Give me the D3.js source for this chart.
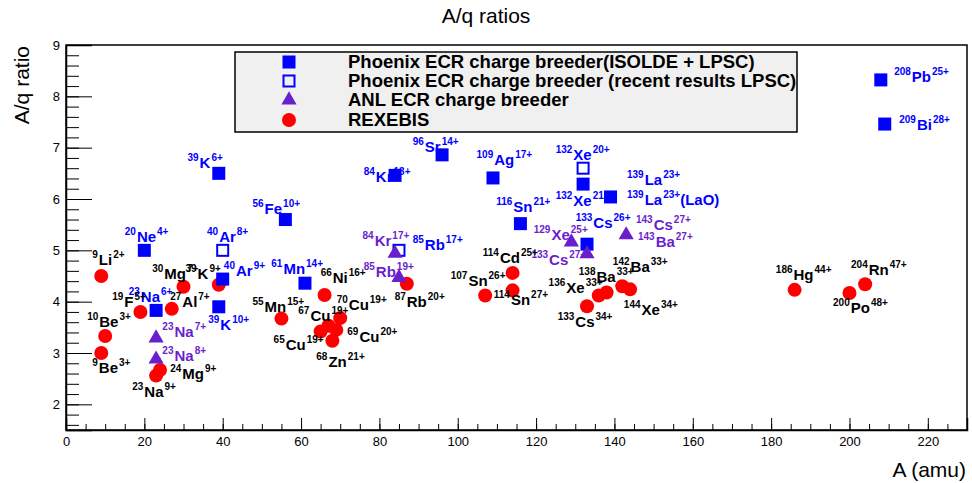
<!DOCTYPE html>
<html>
<head>
<meta charset="utf-8">
<script src="https://cdn.jsdelivr.net/npm/d3@7/dist/d3.min.js"></script>
<style>
  body { margin: 0; background: #fff; }
  svg { font-family: "Liberation Sans", Arial, sans-serif; }
</style>
</head>
<body>
<div id="chart"></div>
<script>
// Canvas
const width = 972;
const height = 483;
const margin = { top: 45, right: 5, bottom: 53, left: 66 };

// Phoenix ECR charge breeder (ISOLDE + LPSC), filled squares
const phoenixA     = [20, 39, 40, 23, 39, 56, 61, 84, 96, 109, 116, 132, 139, 133, 208, 209];
const phoenixRatio = [5.0, 6.5, 4.44, 3.83, 3.9, 5.6, 4.36, 6.46, 6.86, 6.41, 5.52, 6.29, 6.04, 5.12, 8.32, 7.46];

// Phoenix recent results LPSC, open squares
const phoenixNewA     = [40, 85, 132];
const phoenixNewRatio = [5.0, 5.0, 6.6];

// ANL ECR charge breeder, triangles
const anlA     = [23, 23, 84, 85, 129, 133, 143];
const anlRatio = [3.29, 2.88, 4.94, 4.47, 5.16, 4.93, 5.3];

// REXEBIS, circles
const rexA     = [9, 10, 9, 19, 23, 24, 27, 30, 39, 55, 66, 67, 70, 65, 69, 68, 87, 107, 114, 114, 136, 138, 142, 144, 133, 186, 200, 204];
const rexRatio = [4.5, 3.33, 3.0, 3.8, 2.56, 2.67, 3.86, 4.29, 4.33, 3.67, 4.13, 3.53, 3.68, 3.42, 3.45, 3.24, 4.35, 4.12, 4.56, 4.22, 4.12, 4.18, 4.3, 4.24, 3.91, 4.23, 4.17, 4.34];

// Annotations: [mass, element, charge, A position, ratio position, group]
const labels = [
  ["39", "K", "6+", 31.0, 6.60, "p"],
  ["20", "Ne", "4+", 15.0, 5.16, "p"],
  ["40", "Ar", "8+", 36.0, 5.16, "p"],
  ["40", "Ar", "9+", 40.3, 4.50, "p"],
  ["23", "Na", "6+", 16.0, 3.99, "p"],
  ["39", "K", "10+", 36.3, 3.44, "p"],
  ["56", "Fe", "10+", 47.6, 5.71, "p"],
  ["61", "Mn", "14+", 52.4, 4.53, "p"],
  ["84", "Kr", "13+", 76.0, 6.33, "p"],
  ["85", "Rb", "17+", 88.5, 5.00, "p"],
  ["96", "Sr", "14+", 88.5, 6.91, "p"],
  ["109", "Ag", "17+", 104.8, 6.66, "p"],
  ["116", "Sn", "21+", 109.8, 5.74, "p"],
  ["132", "Xe", "20+", 125.0, 6.76, "p"],
  ["132", "Xe", "21+", 125.0, 5.86, "p"],
  ["139", "La", "23+", 143.2, 6.27, "p"],
  ["139", "La", "23+(LaO)", 143.2, 5.88, "p"],
  ["133", "Cs", "26+", 130.1, 5.43, "p"],
  ["208", "Pb", "25+", 211.4, 8.28, "p"],
  ["209", "Bi", "28+", 212.7, 7.34, "p"],
  ["84", "Kr", "17+", 75.7, 5.08, "a"],
  ["85", "Rb", "19+", 76.0, 4.48, "a"],
  ["23", "Na", "7+", 24.6, 3.31, "a"],
  ["23", "Na", "8+", 24.6, 2.84, "a"],
  ["129", "Xe", "25+", 119.4, 5.20, "a"],
  ["133", "Cs", "27+", 118.8, 4.71, "a"],
  ["143", "Cs", "27+", 145.5, 5.39, "a"],
  ["143", "Ba", "27+", 146.0, 5.06, "a"],
  ["9", "Li", "2+", 6.7, 4.71, "r"],
  ["10", "Be", "3+", 5.4, 3.50, "r"],
  ["9", "Be", "3+", 6.7, 2.61, "r"],
  ["19", "F", "5+", 11.8, 3.89, "r"],
  ["23", "Na", "9+", 16.9, 2.14, "r"],
  ["24", "Mg", "9+", 26.6, 2.49, "r"],
  ["27", "Al", "7+", 26.6, 3.89, "r"],
  ["30", "Mg", "7+", 22.0, 4.44, "r"],
  ["39", "K", "9+", 30.5, 4.44, "r"],
  ["55", "Mn", "15+", 47.6, 3.80, "r"],
  ["66", "Ni", "16+", 65.0, 4.36, "r"],
  ["70", "Cu", "19+", 69.1, 3.83, "r"],
  ["67", "Cu", "19+", 59.3, 3.62, "r"],
  ["69", "Cu", "20+", 71.8, 3.21, "r"],
  ["65", "Cu", "19+", 53.0, 3.05, "r"],
  ["68", "Zn", "21+", 63.9, 2.72, "r"],
  ["87", "Rb", "20+", 83.9, 3.89, "r"],
  ["114", "Cd", "25+", 106.4, 4.75, "r"],
  ["107", "Sn", "26+", 98.2, 4.30, "r"],
  ["114", "Sn", "27+", 109.2, 3.93, "r"],
  ["136", "Xe", "33+", 123.2, 4.17, "r"],
  ["138", "Ba", "33+", 130.9, 4.38, "r"],
  ["142", "Ba", "33+", 139.6, 4.58, "r"],
  ["144", "Xe", "34+", 142.4, 3.74, "r"],
  ["133", "Cs", "34+", 125.5, 3.50, "r"],
  ["186", "Hg", "44+", 181.2, 4.42, "r"],
  ["200", "Po", "48+", 195.8, 3.78, "r"],
  ["204", "Rn", "47+", 200.4, 4.52, "r"]
];

// Legend entries
const legendNames = [
  "Phoenix ECR charge breeder(ISOLDE + LPSC)",
  "Phoenix ECR charge breeder (recent results LPSC)",
  "ANL ECR charge breeder",
  "REXEBIS"
];

const blue = "#0000ff";
const violet = "#6a1fcc";
const red = "#ff0000";
const groupColor = { p: blue, a: violet, r: "#000000" };

const svg = d3.select("#chart")
    .append("svg")
    .attr("width", width)
    .attr("height", height);

// Scales
const x = d3.scaleLinear()
    .domain([0, 230])
    .range([margin.left, width - margin.right]);

const y = d3.scaleLinear()
    .domain([1.5, 9])
    .range([height - margin.bottom, margin.top]);

// Frame
svg.append("rect")
    .attr("x", x(0))
    .attr("y", y(9))
    .attr("width", x(230) - x(0))
    .attr("height", y(1.5) - y(9))
    .attr("fill", "none")
    .attr("stroke", "#000")
    .attr("stroke-width", 1.5);

// X axis: major every 20, minor every 5, ticks pointing inward
svg.append("g")
    .attr("transform", `translate(0, ${y(1.5)})`)
    .call(d3.axisBottom(x).tickValues(d3.range(0, 231, 5)).tickSize(-6).tickFormat(""))
    .call(g => g.select(".domain").remove());

svg.append("g")
    .attr("transform", `translate(0, ${y(1.5)})`)
    .call(d3.axisBottom(x).tickValues(d3.range(0, 221, 20)).tickSize(-12).tickPadding(7))
    .call(g => g.select(".domain").attr("stroke-width", 1.5))
    .call(g => g.selectAll("text").attr("font-size", 13).attr("font-family", "Liberation Sans"));

// Y axis: major every 1, minor every 0.2
svg.append("g")
    .attr("transform", `translate(${x(0)}, 0)`)
    .call(d3.axisLeft(y).tickValues(d3.range(1.6, 9, 0.2)).tickSize(-13).tickFormat(""))
    .call(g => g.select(".domain").remove());

svg.append("g")
    .attr("transform", `translate(${x(0)}, 0)`)
    .call(d3.axisLeft(y).tickValues(d3.range(2, 10, 1)).tickSize(-26).tickPadding(6))
    .call(g => g.select(".domain").attr("stroke-width", 1.5))
    .call(g => g.selectAll("text").attr("font-size", 13).attr("font-family", "Liberation Sans"));

// Titles
svg.append("text")
    .attr("x", 486)
    .attr("y", 23)
    .attr("text-anchor", "middle")
    .attr("font-size", 21)
    .text("A/q ratios");

svg.append("text")
    .attr("transform", `translate(29, ${margin.top + 1}) rotate(-90)`)
    .attr("text-anchor", "end")
    .attr("font-size", 21)
    .text("A/q ratio");

svg.append("text")
    .attr("x", 966)
    .attr("y", 477)
    .attr("text-anchor", "end")
    .attr("font-size", 21)
    .text("A (amu)");

// Markers
const sq = 13;
const tri = d3.symbol().type(d3.symbolTriangle).size(100);

svg.append("g").selectAll("circle")
    .data(rexA.map((a, i) => [a, rexRatio[i]]))
    .join("circle")
    .attr("cx", d => x(d[0]))
    .attr("cy", d => y(d[1]))
    .attr("r", 7)
    .attr("fill", red);

svg.append("g").selectAll("rect")
    .data(phoenixA.map((a, i) => [a, phoenixRatio[i]]))
    .join("rect")
    .attr("x", d => x(d[0]) - sq / 2)
    .attr("y", d => y(d[1]) - sq / 2)
    .attr("width", sq)
    .attr("height", sq)
    .attr("fill", blue);

svg.append("g").selectAll("rect")
    .data(phoenixNewA.map((a, i) => [a, phoenixNewRatio[i]]))
    .join("rect")
    .attr("x", d => x(d[0]) - sq / 2 + 1)
    .attr("y", d => y(d[1]) - sq / 2 + 1)
    .attr("width", sq - 2)
    .attr("height", sq - 2)
    .attr("fill", "none")
    .attr("stroke", blue)
    .attr("stroke-width", 2);

svg.append("g").selectAll("path")
    .data(anlA.map((a, i) => [a, anlRatio[i]]))
    .join("path")
    .attr("transform", d => `translate(${x(d[0])}, ${y(d[1])})`)
    .attr("d", tri)
    .attr("fill", violet);

// Isotope labels
const lab = svg.append("g")
    .attr("font-weight", "bold")
    .selectAll("text")
    .data(labels)
    .join("text")
    .attr("x", d => x(d[3]))
    .attr("y", d => y(d[4]))
    .attr("fill", d => groupColor[d[5]]);

lab.append("tspan").attr("font-size", 10).attr("dy", -7).text(d => d[0]);
lab.append("tspan").attr("font-size", 15).attr("dy", 7).attr("dx", 1).text(d => d[1]);
lab.append("tspan").attr("font-size", 10).attr("dy", -7).attr("dx", 1)
    .text(d => d[2].replace("(LaO)", ""));
lab.filter(d => d[2].includes("(LaO)"))
    .append("tspan").attr("font-size", 15).attr("dy", 7).text("(LaO)");

// Legend
const leg = svg.append("g");
leg.append("rect")
    .attr("x", 235)
    .attr("y", 52)
    .attr("width", 562)
    .attr("height", 80)
    .attr("fill", "#f0f0f0")
    .attr("stroke", "#000")
    .attr("stroke-width", 1.5);

const rowY = [62, 81, 100, 120];
const mx = 289;

leg.append("rect").attr("x", mx - sq / 2).attr("y", rowY[0] - sq / 2)
    .attr("width", sq).attr("height", sq).attr("fill", blue);
leg.append("rect").attr("x", mx - sq / 2 + 1).attr("y", rowY[1] - sq / 2 + 1)
    .attr("width", sq - 2).attr("height", sq - 2)
    .attr("fill", "none").attr("stroke", blue).attr("stroke-width", 2);
leg.append("path").attr("transform", `translate(${mx}, ${rowY[2]})`)
    .attr("d", tri).attr("fill", violet);
leg.append("circle").attr("cx", mx).attr("cy", rowY[3]).attr("r", 7).attr("fill", red);

leg.selectAll("text.name")
    .data(legendNames)
    .join("text")
    .attr("class", "name")
    .attr("x", 348)
    .attr("y", (d, i) => rowY[i] + 6)
    .attr("font-size", 18.5)
    .attr("font-weight", "bold")
    .text(d => d);
</script>
</body>
</html>
